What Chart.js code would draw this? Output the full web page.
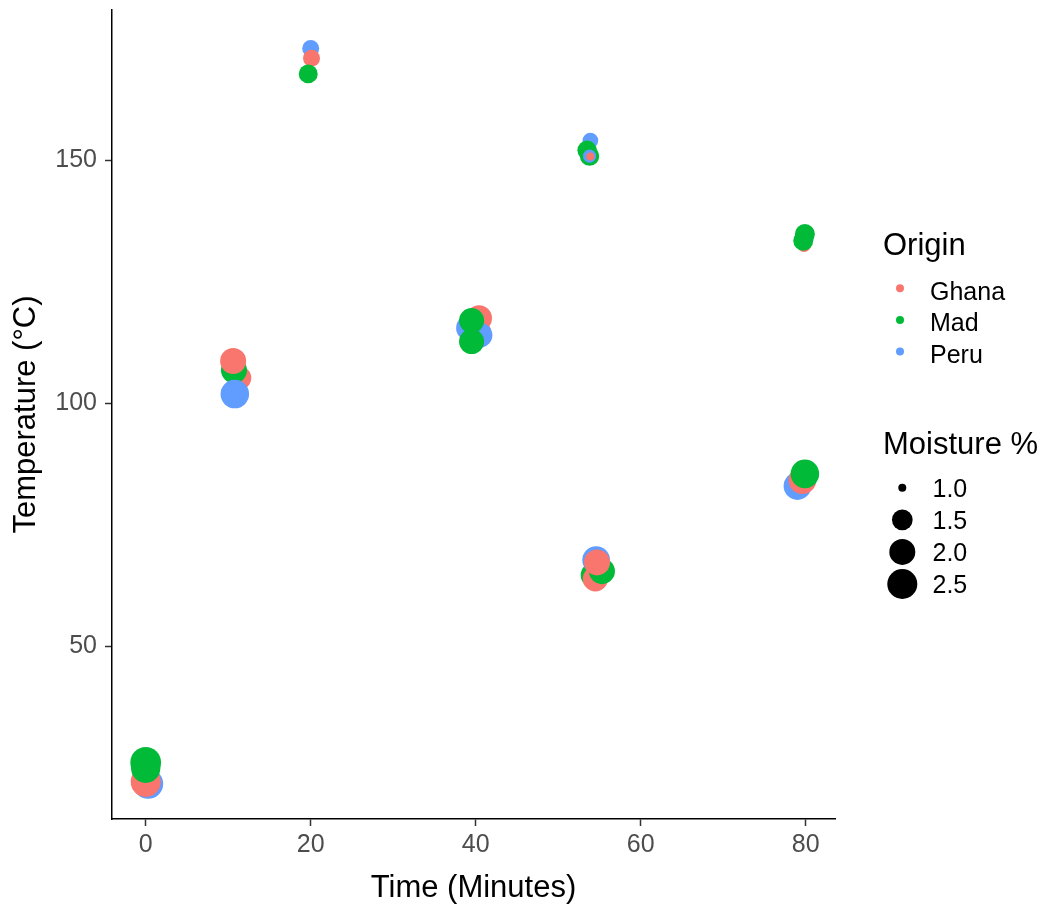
<!DOCTYPE html>
<html>
<head>
<meta charset="utf-8">
<script src="https://cdn.jsdelivr.net/npm/chart.js@4"></script>
<style>
    html, body { margin: 0; padding: 0; background: #fff; }
    canvas { display: block; }
</style>
</head>
<body>
<canvas id="chart" width="1045" height="911"></canvas>
<script>
const origins = ['Ghana', 'Mad', 'Peru'];
const originColors = ['#F8766D', '#00BA38', '#619CFF'];
const moistureBreaks = [1.0, 1.5, 2.0, 2.5];
const xTicks = [0, 20, 40, 60, 80];
const yTicks = [50, 100, 150];

// one entry per measurement, in plotting order (later ones sit on top)
const origin = [
    'Peru', 'Ghana', 'Mad', 'Mad',
    'Ghana', 'Mad', 'Peru', 'Ghana',
    'Peru', 'Ghana', 'Mad',
    'Ghana', 'Peru', 'Ghana', 'Peru', 'Mad', 'Mad',
    'Peru', 'Mad', 'Mad', 'Peru', 'Ghana',
    'Mad', 'Ghana', 'Mad', 'Peru', 'Ghana',
    'Ghana', 'Peru', 'Mad', 'Mad',
    'Peru', 'Ghana', 'Mad'
];
const time = [
    0.3, 0, 0, 0,
    11.4, 10.7, 10.8, 10.6,
    20.0, 20.1, 19.7,
    40.4, 39.2, 40.3, 40.5, 39.5, 39.5,
    53.9, 53.5, 53.8, 53.8, 53.9,
    54.3, 54.5, 55.3, 54.6, 54.7,
    79.8, 79.9, 79.7, 79.9,
    79.0, 79.6, 79.9
];
const temperature = [
    21.8, 22.2, 25.0, 26.2,
    105.2, 106.8, 101.9, 108.7,
    172.9, 170.9, 167.7,
    117.5, 115.5, 114.5, 114.0, 117.0, 112.7,
    154.0, 152.0, 150.8, 150.8, 150.7,
    64.7, 63.9, 65.5, 67.8, 67.3,
    132.5, 134.0, 133.4, 134.8,
    83.0, 84.2, 85.5
];
const moisture = [
    2.5, 2.5, 2.4, 2.6,
    1.7, 2.0, 2.3, 2.0,
    1.25, 1.25, 1.37,
    2.0, 2.0, 2.0, 1.9, 1.9, 1.9,
    1.18, 1.4, 1.4, 1.08, 1.0,
    2.0, 1.9, 2.0, 2.2, 2.0,
    1.1, 1.3, 1.44, 1.44,
    2.2, 2.2, 2.3
];

const FONT = '"Liberation Sans", Arial, sans-serif';

// area-style size scale, same as the legend keys
function sizeOf(m) {
    return 4 + 9 * Math.sqrt(Math.max(0, m - 1));
}

function colorOf(name) {
    return originColors[origins.indexOf(name)];
}

const points = time.map((t, i) => ({ x: t, y: temperature[i], r: sizeOf(moisture[i]) }));

// legend on the right, drawn like the ggplot guides
const legendPlugin = {
    id: 'ggLegend',
    afterDraw(chart) {
        const c = chart.ctx;
        c.save();
        c.textBaseline = 'alphabetic';
        c.textAlign = 'left';

        c.fillStyle = '#000';
        c.font = '31px ' + FONT;
        c.fillText('Origin', 883, 254.5);

        c.font = '25px ' + FONT;
        origins.forEach((name, i) => {
            const base = 299.5 + i * 31.7;
            c.fillStyle = originColors[i];
            c.beginPath();
            c.arc(900, base - 11.3, 4, 0, Math.PI * 2);
            c.fill();
            c.fillStyle = '#000';
            c.fillText(name, 930, base);
        });

        c.font = '31px ' + FONT;
        c.fillText('Moisture %', 883, 453.5);

        c.font = '25px ' + FONT;
        moistureBreaks.forEach((m, i) => {
            const base = 496.7 + i * 32.1;
            c.fillStyle = '#000';
            c.beginPath();
            c.arc(902.3, base - 9, sizeOf(m), 0, Math.PI * 2);
            c.fill();
            c.fillText(m.toFixed(1), 932.5, base);
        });
        c.restore();
    }
};

const axisCommon = {
    border: { display: true, color: '#000', width: 1.5 },
    grid: {
        display: true,
        drawOnChartArea: false,
        drawTicks: true,
        tickLength: 7,
        tickColor: '#333',
        tickWidth: 1.5
    }
};

new Chart(document.getElementById('chart').getContext('2d'), {
    type: 'bubble',
    data: {
        datasets: [{
            data: points,
            backgroundColor: ctx => colorOf(origin[ctx.dataIndex]),
            borderWidth: 0,
            hoverBorderWidth: 0
        }]
    },
    options: {
        responsive: false,
        devicePixelRatio: 1,
        animation: false,
        events: [],
        clip: false,
        layout: { autoPadding: false, padding: { left: 0, top: 10, right: 210, bottom: 0 } },
        plugins: {
            legend: { display: false },
            tooltip: { enabled: false }
        },
        scales: {
            x: {
                ...axisCommon,
                type: 'linear',
                min: -4.085,
                max: 83.55,
                afterBuildTicks: s => { s.ticks = xTicks.map(v => ({ value: v })); },
                afterFit: s => {
                    s.height = 92;
                    s.paddingLeft = 0;
                    s.paddingRight = 0;
                },
                ticks: {
                    color: '#4D4D4D',
                    font: { family: FONT, size: 25 },
                    padding: 4.5,
                    maxRotation: 0
                },
                title: {
                    display: true,
                    text: 'Time (Minutes)',
                    color: '#000',
                    font: { family: FONT, size: 31 },
                    padding: { top: 0, bottom: 4.4 }
                }
            },
            y: {
                ...axisCommon,
                type: 'linear',
                min: 14.57,
                max: 180.83,
                afterBuildTicks: s => { s.ticks = yTicks.map(v => ({ value: v })); },
                afterFit: s => {
                    s.width = 112;
                    s.paddingTop = 0;
                    s.paddingBottom = 0;
                },
                ticks: {
                    color: '#4D4D4D',
                    font: { family: FONT, size: 25 },
                    padding: 8
                },
                title: {
                    display: true,
                    text: 'Temperature (°C)',
                    color: '#000',
                    font: { family: FONT, size: 31 },
                    padding: { top: 7.4, bottom: 0 }
                }
            }
        }
    },
    plugins: [legendPlugin]
});
</script>
</body>
</html>
